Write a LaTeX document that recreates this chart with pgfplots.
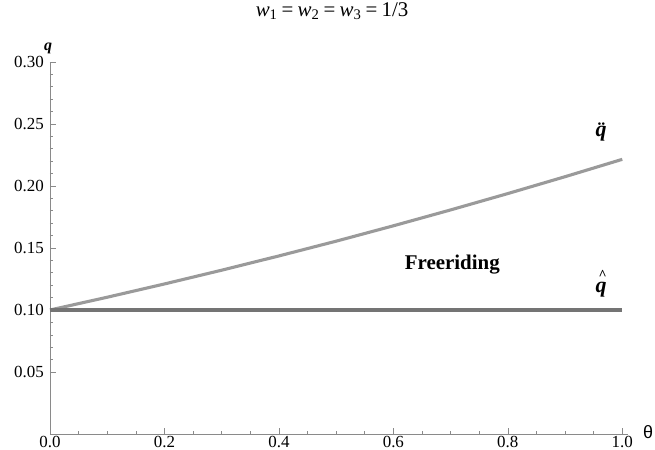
\documentclass[border=0pt]{standalone}
\usepackage{fontspec}
\setmainfont{Liberation Serif}
\newfontfamily\sansf{Liberation Sans}
\usepackage{pgfplots}
\pgfplotsset{compat=1.18}
\definecolor{upper}{HTML}{9A9A9A}
\definecolor{lower}{HTML}{747474}
\definecolor{axgray}{HTML}{8A8A8A}
\newcommand{\eqs}{\kern0.2em=\kern0.2em}

\begin{document}
\begin{tikzpicture}
\begin{axis}[
  scale only axis, width=578bp, height=372bp,
  xmin=0, xmax=1.01, ymin=0, ymax=0.30,
  axis x line=bottom, axis y line=left,
  axis line style={-, axgray, line width=0.8bp},
  tick align=inside, tick style={axgray, line width=0.6bp},
  major tick length=6bp, minor tick length=3.5bp,
  xtick={0,0.2,...,1.0}, ytick={0.05,0.10,...,0.30},
  minor x tick num=3, minor y tick num=4,
  xticklabel={\pgfmathprintnumber[fixed,fixed zerofill,precision=1]{\tick}},
  yticklabel={\pgfmathprintnumber[fixed,fixed zerofill,precision=2]{\tick}},
  /pgf/number format/assume math mode=true,
  ticklabel style={font=\fontsize{17}{19}\selectfont},
  xticklabel style={inner sep=1bp, yshift=-1bp},
  yticklabel style={inner sep=1bp, xshift=-5bp},
  xlabel={\sansf θ},
  xlabel style={at={(rel axis cs:1,0)}, anchor=center, xshift=20bp, yshift=2bp, font=\fontsize{18}{20}\selectfont},
  ylabel={\itshape\bfseries q},
  ylabel style={rotate=-90, at={(rel axis cs:0,1)}, anchor=center, xshift=-2bp, yshift=14bp, font=\fontsize{16}{18}\selectfont},
  title={{\itshape w}\textsubscript{1}\eqs{\itshape w}\textsubscript{2}\eqs{\itshape w}\textsubscript{3}\eqs 1/3},
  title style={at={(0.488,1)}, anchor=center, yshift=45bp, font=\fontsize{21}{23}\selectfont},
  clip=false,
]
\addplot[upper, line width=3.1bp] coordinates {
  (0.0,0.1000) (0.1,0.1103) (0.2,0.1210) (0.3,0.1321) (0.4,0.1436) (0.5,0.1555)
  (0.6,0.1679) (0.7,0.1807) (0.8,0.1939) (0.9,0.2075) (1.0,0.2215)};
\addplot[lower, line width=3.1bp] coordinates {(0.0,0.1) (1.0,0.1)};
\node[font=\fontsize{22}{24}\selectfont\bfseries\itshape] at (axis cs:0.963,0.2435) {\"{q}};
\node[font=\fontsize{22}{24}\selectfont\bfseries\itshape, inner sep=0pt] (qh) at (axis cs:0.963,0.1165) {q};
\node[font=\fontsize{14}{14}\selectfont\bfseries, inner sep=0pt, anchor=south] at ([xshift=1.5bp,yshift=2.5bp]qh.north) {\^{}};
\node[font=\fontsize{21}{23}\selectfont\bfseries] at (axis cs:0.703,0.1363) {Freeriding};
\end{axis}
\pgfresetboundingbox
\path[use as bounding box] (-50bp,-16bp) rectangle (605bp,434bp);
\end{tikzpicture}
\end{document}
